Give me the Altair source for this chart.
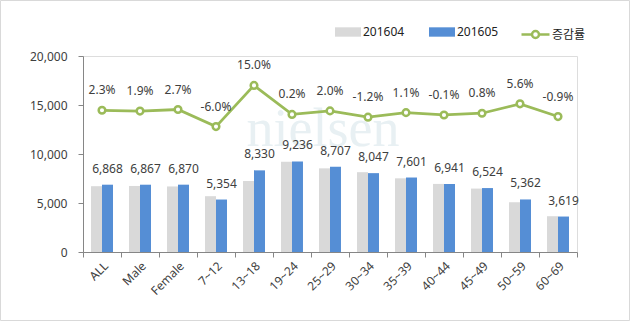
import altair as alt
import pandas as pd

categories = ["ALL", "Male", "Female", "7~12", "13~18", "19~24", "25~29",
              "30~34", "35~39", "40~44", "45~49", "50~59", "60~69"]
v201604 = [6714, 6739, 6689, 5696, 7243, 9218, 8536, 8145, 7518, 6948, 6472, 5078, 3652]
v201605 = [6868, 6867, 6870, 5354, 8330, 9236, 8707, 8047, 7601, 6941, 6524, 5362, 3619]
rate = [2.3, 1.9, 2.7, -6.0, 15.0, 0.2, 2.0, -1.2, 1.1, -0.1, 0.8, 5.6, -0.9]
y_ticks = [0, 5000, 10000, 15000, 20000]
series_names = ["201604", "201605"]
line_name = "증감률"

GRAY = "#d9d9d9"
BLUE = "#558ed5"
GREEN = "#9bbb59"
TXT = "#404040"
AXC = "#868686"
FONT = "Noto Sans, Noto Sans CJK KR"

rows = []
for c, a, b in zip(categories, v201604, v201605):
    rows.append({"category": c, "series": series_names[0], "value": a})
    rows.append({"category": c, "series": series_names[1], "value": b})
bars_df = pd.DataFrame(rows)
lab_df = pd.DataFrame({"category": categories, "series": series_names[1],
                       "value": v201605,
                       "label": [f"{v:,}" for v in v201605]})
line_df = pd.DataFrame({"category": categories, "rate": rate,
                        "label": [f"{r:.1f}%" for r in rate],
                        "s": line_name})

x_enc = alt.X("category:N", sort=categories,
              scale=alt.Scale(paddingInner=0, paddingOuter=0),
              axis=alt.Axis(title=None, labelAngle=-45, tickBand="extent",
                            tickSize=5, labelPadding=3, domainColor=AXC,
                            tickColor=AXC, labelColor=TXT, labelFontSize=12,
                            labelFont=FONT))
xoff = alt.XOffset("series:N", scale=alt.Scale(domain=series_names,
                                                 paddingInner=0, paddingOuter=0.73))
y_bar_scale = alt.Scale(domain=[0, 20000])
y_bar_axis = alt.Axis(title=None, values=y_ticks,
                      labelExpr="format(datum.value, ',')",
                      grid=False, tickSize=5, labelPadding=11,
                      domainColor=AXC, tickColor=AXC, labelColor=TXT,
                      labelFontSize=12, labelFont=FONT)

rect_path = "M-1,-0.36H1V0.36H-1Z"
line_path = ("M-1,0H-0.25M0.25,0H1M-0.25,0A0.25,0.25 0 1 1 0.25,0"
             "A0.25,0.25 0 1 1 -0.25,0Z")

bars = alt.Chart(bars_df).mark_bar().encode(
    x=x_enc,
    xOffset=xoff,
    y=alt.Y("value:Q", scale=y_bar_scale, axis=y_bar_axis),
    color=alt.Color("series:N",
                    scale=alt.Scale(domain=series_names, range=[GRAY, BLUE]),
                    legend=alt.Legend(title=None, orient="none", legendX=252,
                                      legendY=-37, direction="horizontal",
                                      symbolType=rect_path, symbolSize=676,
                                      symbolStrokeWidth=0, labelOffset=2,
                                      columnPadding=24, padding=0,
                                      labelFontSize=12, labelFont=FONT,
                                      labelColor="#222222")),
)

bar_labels = alt.Chart(lab_df).mark_text(
    fontSize=12, font=FONT, color=TXT, baseline="middle", dy=-16
).encode(
    x=alt.X("category:N", sort=categories),
    xOffset=alt.XOffset("series:N"),
    y=alt.Y("value:Q", scale=y_bar_scale, axis=y_bar_axis),
    text="label:N",
)

y_line_scale = alt.Scale(domain=[-70, 30])

line = alt.Chart(line_df).mark_line(strokeWidth=2.75).encode(
    x=alt.X("category:N", sort=categories),
    y=alt.Y("rate:Q", scale=y_line_scale, axis=None),
    stroke=alt.Stroke("s:N", scale=alt.Scale(domain=[line_name], range=[GREEN]),
                      legend=alt.Legend(title=None, orient="none", legendX=437,
                                        legendY=-37, symbolType=line_path,
                                        symbolSize=784, symbolStrokeWidth=2.5,
                                        symbolFillColor="white", labelOffset=1,
                                        padding=0, labelFontSize=12,
                                        labelFont=FONT, labelColor="#222222")),
)

points = alt.Chart(line_df).mark_point(
    filled=True, fill="white", stroke=GREEN, strokeWidth=2.5, size=44, opacity=1
).encode(
    x=alt.X("category:N", sort=categories),
    y=alt.Y("rate:Q", scale=y_line_scale, axis=None),
)

pct_labels = alt.Chart(line_df).mark_text(
    fontSize=12, font=FONT, color=TXT, baseline="middle", dy=-20
).encode(
    x=alt.X("category:N", sort=categories),
    y=alt.Y("rate:Q", scale=y_line_scale, axis=None),
    text="label:N",
)

one = alt.Data(values=[{"k": 1}])
watermark = alt.Chart(one).mark_text(
    text="nielsen", font="Liberation Serif", fontSize=54, color="#e8f0f3",
    align="center", baseline="alphabetic"
).encode(x=alt.value(240), y=alt.value(90))
border = alt.Chart(one).mark_rect(
    filled=False, stroke="#d9d9d9", strokeWidth=1
).encode(x=alt.value(-82.5), x2=alt.value(546.5),
         y=alt.value(-55.5), y2=alt.value(264.5))

deco = alt.layer(border, watermark)
bar_group = alt.layer(bars, bar_labels)
line_group = alt.layer(line, points, pct_labels)

chart = alt.layer(deco, bar_group, line_group).resolve_scale(
    y="independent"
).properties(
    width=494, height=196, autosize="none",
    padding={"left": 83, "top": 56, "right": 53, "bottom": 70},
).configure_view(stroke=None).configure(background="white")

chart.save("out.html", embed_options={"renderer": "svg", "actions": False})
